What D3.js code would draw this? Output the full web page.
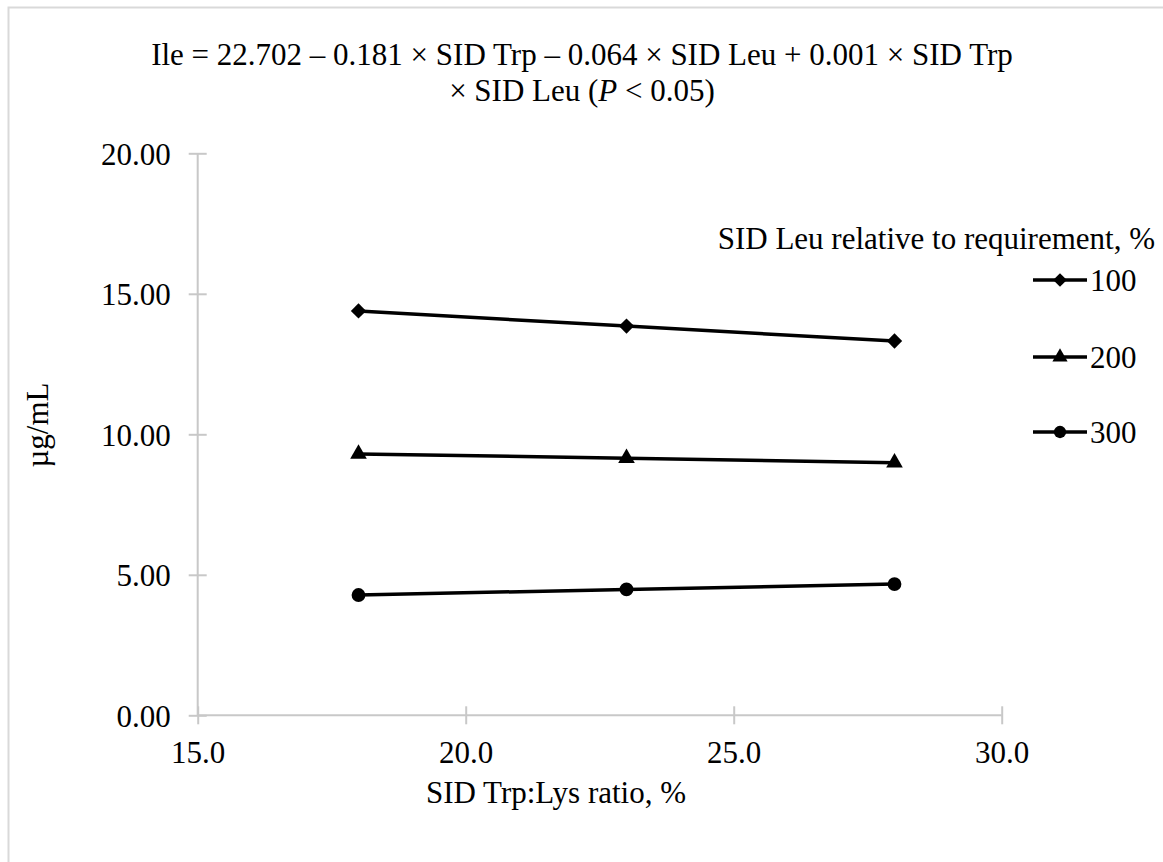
<!DOCTYPE html>
<html><head><meta charset="utf-8">
<script src="https://cdn.jsdelivr.net/npm/d3@7"></script>
<style>body{margin:0;background:#fff}svg{display:block}text{font-family:"Liberation Serif","Times New Roman",serif;fill:#000}</style>
</head><body>
<script>
const trpRatio = [18, 23, 28];
const seriesNames = ["100", "200", "300"];
const leu100 = [14.39, 13.85, 13.32];
const leu200 = [9.30, 9.15, 8.99];
const leu300 = [4.28, 4.48, 4.67];
const xTicks = [15, 20, 25, 30];
const yTicks = [0, 5, 10, 15, 20];
const titleLines = ["Ile = 22.702 – 0.181 × SID Trp – 0.064 × SID Leu + 0.001 × SID Trp"];
const legendTitle = "SID Leu relative to requirement, %";
const xTitle = "SID Trp:Lys ratio, %";
const yTitle = "µg/mL";
const symbols = [d3.symbolDiamond2, d3.symbolTriangle, d3.symbolCircle];
const series = [leu100, leu200, leu300];

const W = 1163, H = 862, FS = 31;
const svg = d3.select("body").append("svg").attr("width", W).attr("height", H);
svg.append("rect").attr("x", 8.5).attr("y", 7.5).attr("width", 1300).attr("height", 1000)
  .attr("fill", "#fff").attr("stroke", "#d9d9d9").attr("stroke-width", 2);

const x = d3.scaleLinear().domain([15, 30]).range([197.7, 1001.7]);
const y = d3.scaleLinear().domain([0, 20]).range([715.3, 153.3]);

// axes
const gx = svg.append("g").attr("transform", `translate(0,${y(0)})`)
  .call(d3.axisBottom(x).tickValues(xTicks).tickSize(9).tickFormat(d3.format(".1f")));
gx.select(".domain").remove();
gx.append("line").attr("x1", x(15)).attr("x2", x(30)).attr("stroke", "#c8c8c8").attr("stroke-width", 2);
gx.selectAll(".tick line").attr("y1", -9).attr("y2", 9).attr("stroke", "#c8c8c8").attr("stroke-width", 2);
gx.selectAll(".tick text").attr("y", 37).attr("dy", "0.35em").style("font-size", FS + "px")
  .style("font-family", "Liberation Serif").attr("fill", "#000");

const gy = svg.append("g").attr("transform", `translate(${x(15)},0)`)
  .call(d3.axisLeft(y).tickValues(yTicks).tickSize(9).tickFormat(d3.format(".2f")));
gy.select(".domain").remove();
gy.append("line").attr("y1", y(0)).attr("y2", y(20)).attr("stroke", "#c8c8c8").attr("stroke-width", 2);
gy.selectAll(".tick line").attr("x1", -9).attr("x2", 9).attr("stroke", "#c8c8c8").attr("stroke-width", 2);
gy.selectAll(".tick text").attr("x", -27).attr("dy", "0.35em").style("font-size", FS + "px")
  .style("font-family", "Liberation Serif").attr("fill", "#000");

// series
const line = d3.line().x((d, i) => x(trpRatio[i])).y(d => y(d));
series.forEach((vals, si) => {
  svg.append("path").datum(vals).attr("d", line).attr("fill", "none")
    .attr("stroke", "#000").attr("stroke-width", 3.5);
  svg.selectAll(null).data(vals).enter().append("path")
    .attr("transform", (d, i) => `translate(${x(trpRatio[i])},${y(d)})`)
    .attr("d", d3.symbol().type(symbols[si]).size(si === 1 ? 120 : 150))
    .attr("fill", "#000");
});

// title
const t = svg.append("text").attr("text-anchor", "middle").style("font-size", FS + "px");
t.append("tspan").attr("x", 582).attr("y", 65).text(titleLines[0]);
const t2 = t.append("tspan").attr("x", 582).attr("y", 101);
t2.append("tspan").text("× SID Leu (");
t2.append("tspan").style("font-style", "italic").text("P");
t2.append("tspan").text(" < 0.05)");

// axis titles
svg.append("text").attr("x", 556).attr("y", 792).attr("dy", "0.35em").attr("text-anchor", "middle")
  .style("font-size", FS + "px").text(xTitle);
svg.append("text").attr("transform", "translate(37,425) rotate(-90)").attr("dy", "0.35em")
  .attr("text-anchor", "middle").style("font-size", FS + "px").text(yTitle);

// legend
svg.append("text").attr("x", 1155).attr("y", 238).attr("dy", "0.35em").attr("text-anchor", "end")
  .style("font-size", FS + "px").text(legendTitle);
const legY = [280, 357, 432];
seriesNames.forEach((n, i) => {
  const g = svg.append("g").attr("transform", `translate(0,${legY[i]})`);
  g.append("line").attr("x1", 1033).attr("x2", 1087).attr("stroke", "#000").attr("stroke-width", 3.5);
  g.append("path").attr("transform", "translate(1060,0)")
    .attr("d", d3.symbol().type(symbols[i]).size(i === 1 ? 100 : 120)).attr("fill", "#000");
  g.append("text").attr("x", 1090).attr("dy", "0.35em").style("font-size", FS + "px").text(n);
});
</script>
</body></html>
